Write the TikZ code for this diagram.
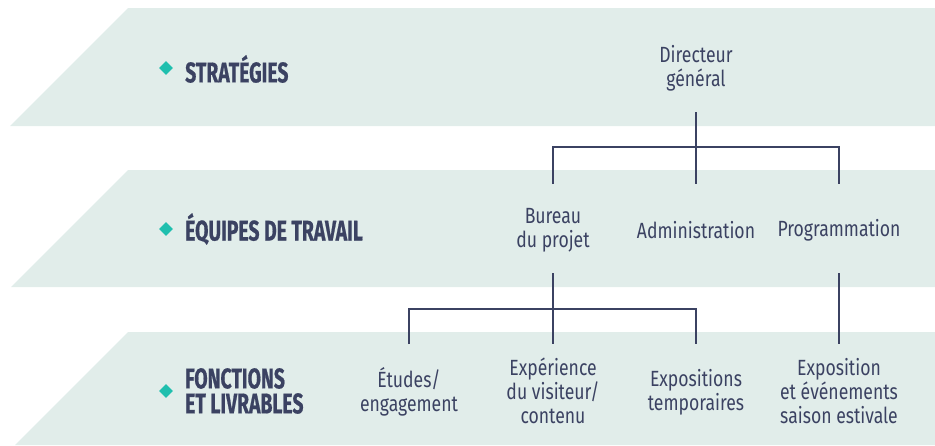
\documentclass[tikz,border=0pt]{standalone}
\usepackage{fontspec}
\setmainfont{Fira Sans}[FakeStretch=0.8]
\newfontfamily\headfont{Fira Sans}[FakeStretch=0.68, BoldFeatures={FakeBold=0.6}]
\usetikzlibrary{shapes.geometric}
\definecolor{ink}{HTML}{3B4262}
\definecolor{bandgreen}{HTML}{E1EDEA}
\definecolor{teal}{HTML}{1FBFAE}
\tikzset{
	band/.style={fill=bandgreen},
	unit/.style={text=ink, align=center, inner sep=0pt, font=\fontsize{22}{24}\selectfont},
	level/.style={text=ink, align=left, anchor=west, inner sep=0pt, font=\headfont\bfseries\fontsize{28.5}{25}\selectfont},
	bullet/.style={diamond, fill=teal, minimum size=14pt, inner sep=0pt},
	link/.style={draw=ink, line width=1.3pt}
}
\begin{document}
\begin{tikzpicture}[x=1pt,y=-1pt]
	\useasboundingbox (0,0) rectangle (935,445);
	
	\foreach \t/\b in {8/126,170/287,332/445}
		\fill[band] (128,\t) -- (935,\t) -- (935,\b) -- ({128-(\b-\t)},\b) -- cycle;
	
	\node[bullet] at (166,68) (b1) {};
	\node[bullet] at (166,229) (b2) {};
	\node[bullet] at (166,391) (b3) {};
	\node[level] at (185,69) (strat) {STRATÉGIES};
	\node[level] at (185,229) (equipes) {ÉQUIPES DE TRAVAIL};
	\node[level] at (185,391) (fonctions) {FONCTIONS\\ET LIVRABLES};
	
	\node[unit] at (696,68) (dg) {Directeur\\général};
	\node[unit] at (553,230) (bureau) {Bureau\\du projet};
	\node[unit] at (696,230) (admin) {Administration};
	\node[unit] at (839,230) (prog) {Programmation};
	\node[unit] at (409,392) (etudes) {Études/\\engagement};
	\node[unit] at (553,391) (experience) {Expérience\\du visiteur/\\contenu};
	\node[unit] at (696,392) (expos) {Expositions\\temporaires};
	\node[unit] at (839,391) (estival) {Exposition\\et événements\\saison estivale};
	
	\coordinate (top2) at (0,112);
	\coordinate (bar2) at (0,147);
	\coordinate (foot2) at (0,184);
	\coordinate (top3) at (0,273);
	\coordinate (bar3) at (0,309);
	\coordinate (foot3) at (0,344);
	
	\path[link] (dg |- top2) -- (admin |- foot2)
	(bureau |- foot2) |- (prog |- bar2) -- (prog |- foot2)
	(bureau |- top3) -- (experience |- foot3)
	(etudes |- foot3) |- (expos |- bar3) -- (expos |- foot3)
	(prog |- top3) -- (estival |- foot3);
\end{tikzpicture}
\end{document}
